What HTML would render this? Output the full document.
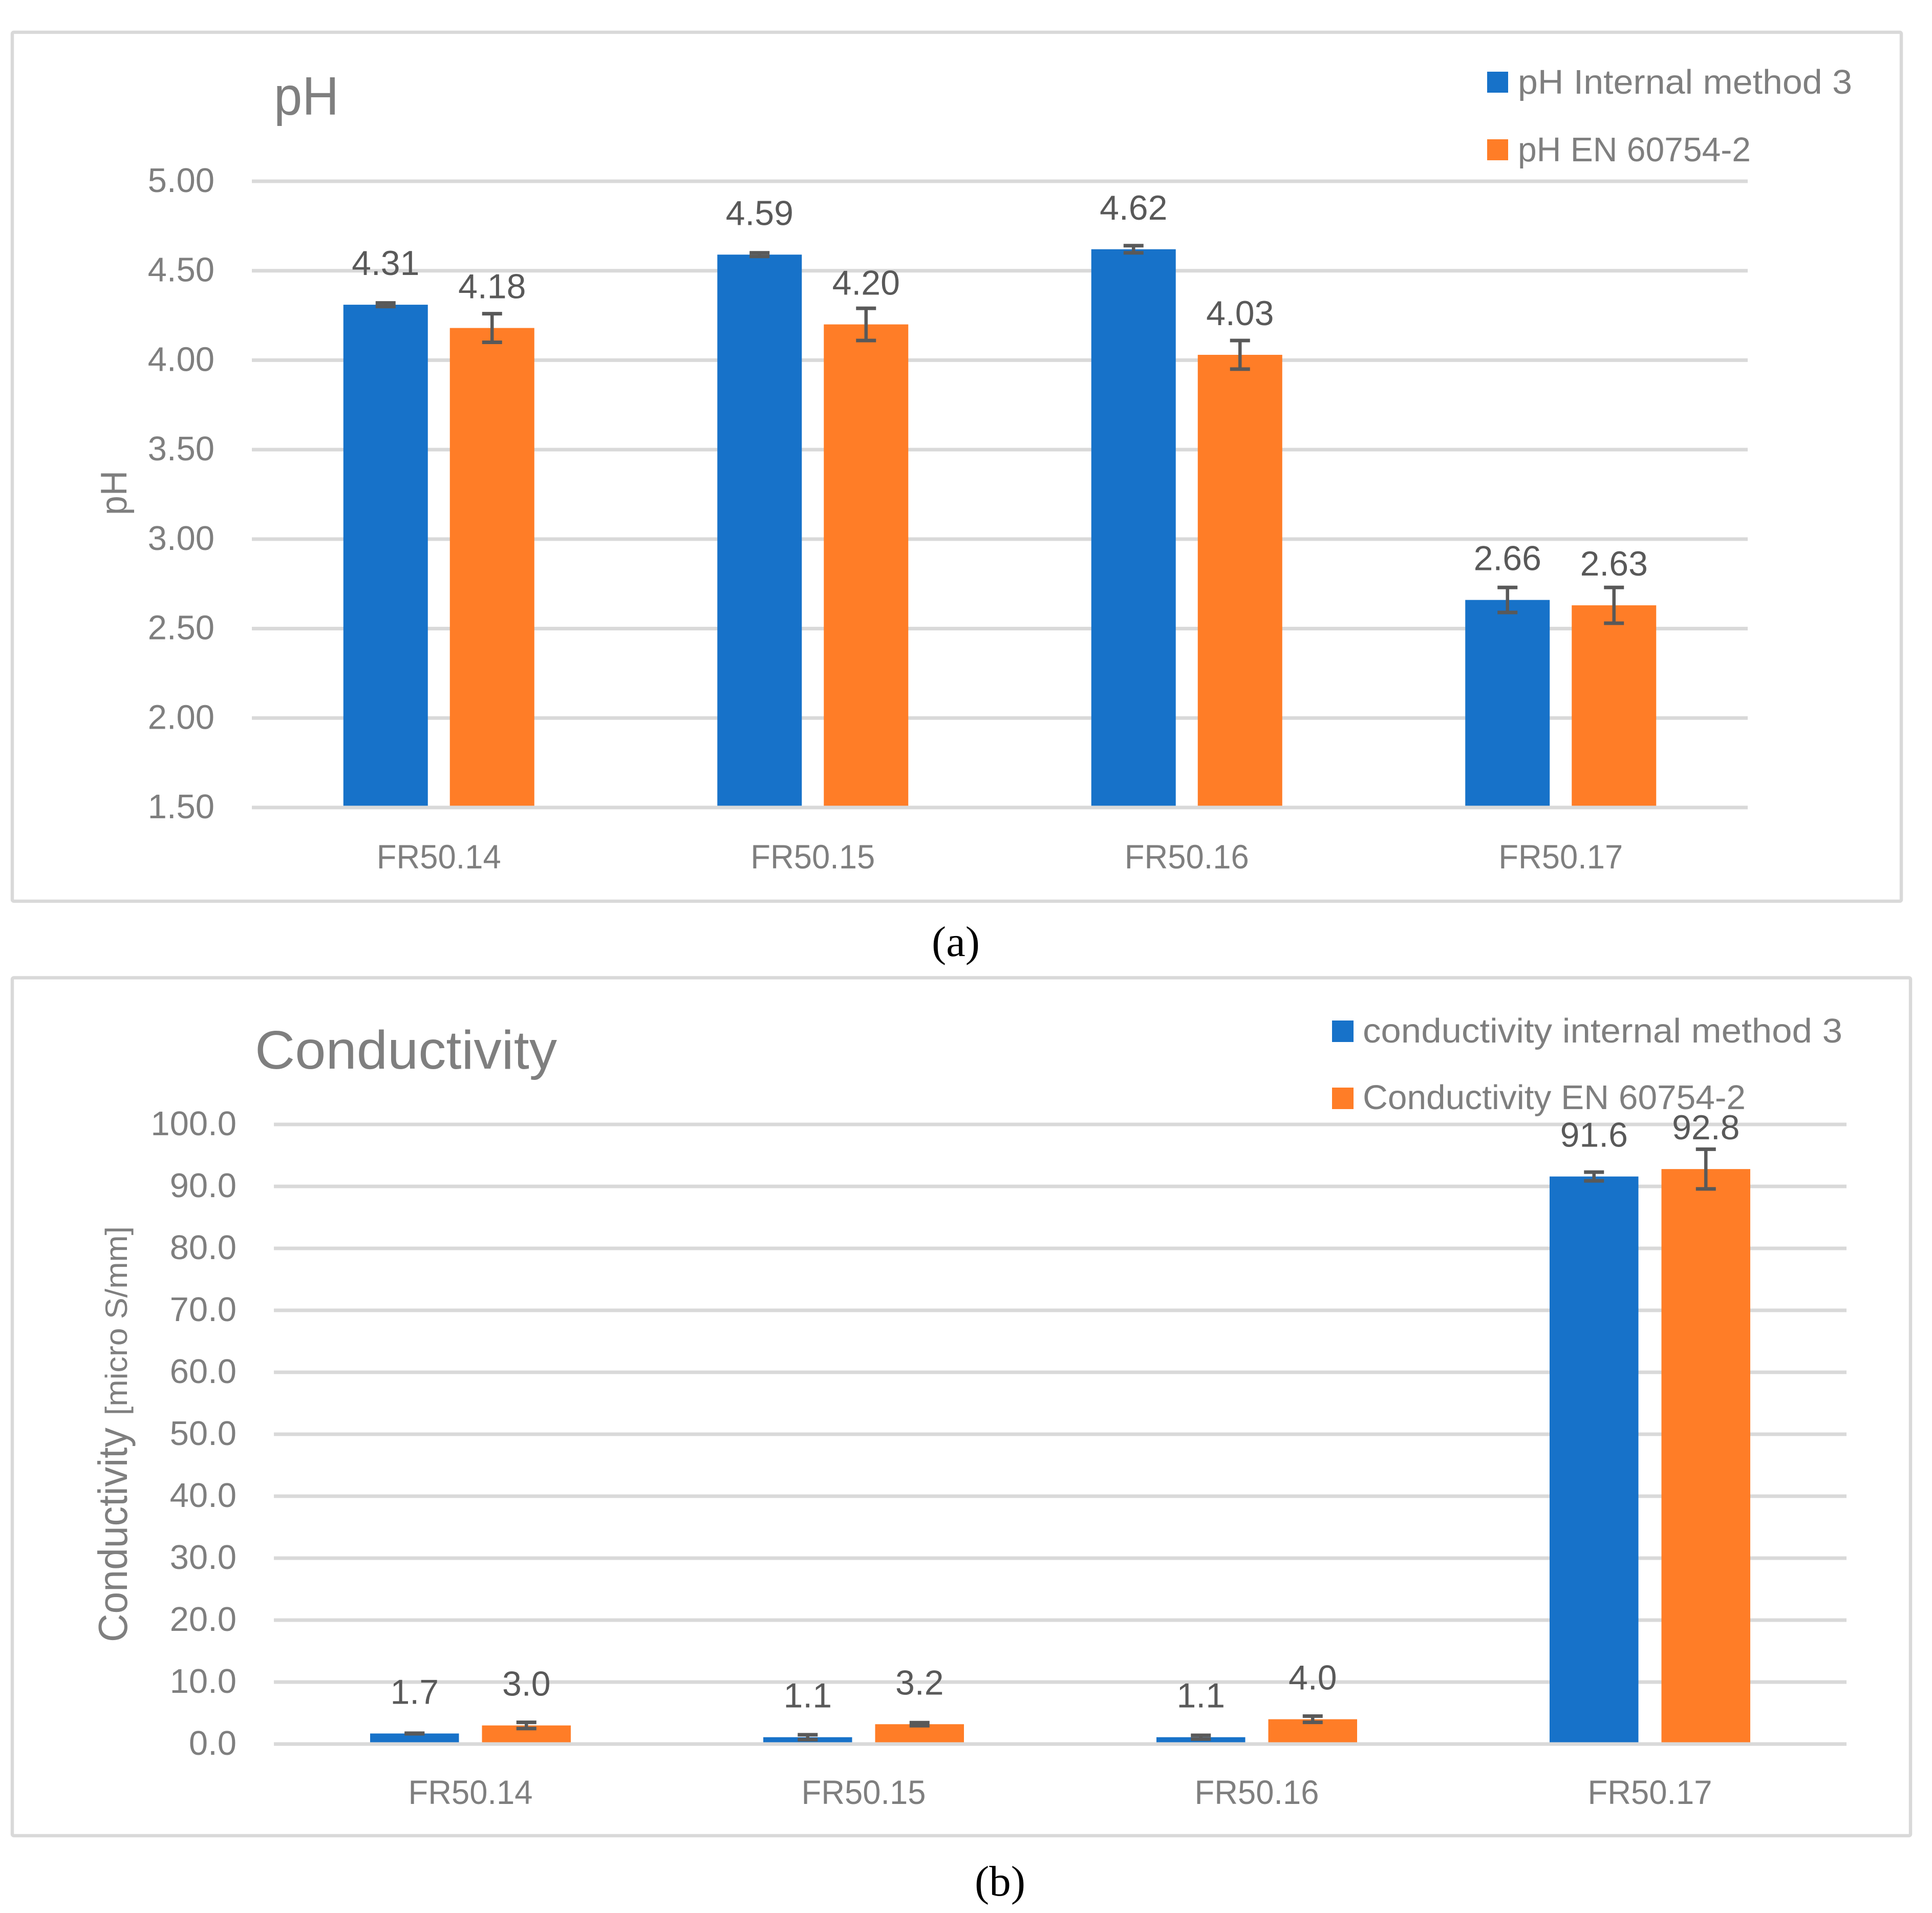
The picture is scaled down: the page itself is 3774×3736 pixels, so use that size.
<!DOCTYPE html>
<html lang="en">
<head>
<meta charset="utf-8">
<title>pH and Conductivity charts</title>
<style>
html,body{margin:0;padding:0;background:#fff;}
svg{display:block;}
text{font-family:"Liberation Sans",sans-serif;}
.tick{fill:#7f7f7f;font-size:67px;}
.cat{fill:#7f7f7f;font-size:66px;}
.val{fill:#595959;font-size:68px;}
.leg{fill:#7f7f7f;font-size:67px;}
.ttl{fill:#7f7f7f;font-size:106px;}
.axt{fill:#7f7f7f;}
.cap{fill:#000;font-family:"Liberation Serif",serif;font-size:84px;}
</style>
</head>
<body>
<svg id="figure" xmlns="http://www.w3.org/2000/svg" width="3774" height="3736" viewBox="0 0 3774 3736">
  <rect x="0" y="0" width="3774" height="3736" fill="#fff"/>

  <g>
    <rect x="24" y="63" width="3690" height="1697" rx="3" fill="#fff" stroke="#d9d9d9" stroke-width="6.5"/>
    <text class="ttl" x="535" y="224" textLength="127" lengthAdjust="spacingAndGlyphs">pH</text>
    <rect x="2905" y="140" width="41" height="41" fill="#1772c9"/>
    <text class="leg" x="2965" y="183" textLength="653" lengthAdjust="spacingAndGlyphs">pH Internal method 3</text>
    <rect x="2905" y="272" width="41" height="41" fill="#ff7d27"/>
    <text class="leg" x="2965" y="315" textLength="455" lengthAdjust="spacingAndGlyphs">pH EN 60754-2</text>
    <text class="axt" font-size="72" transform="translate(247 1006) rotate(-90)" textLength="87" lengthAdjust="spacingAndGlyphs">pH</text>
    <g id="ph-plot"></g>
  </g>
  <text class="cap" x="1820" y="1867" textLength="94" lengthAdjust="spacingAndGlyphs">(a)</text>

  <g>
    <rect x="24" y="1909.5" width="3708" height="1675.5" rx="3" fill="#fff" stroke="#d9d9d9" stroke-width="6.5"/>
    <text class="ttl" x="498" y="2087" textLength="590" lengthAdjust="spacingAndGlyphs">Conductivity</text>
    <rect x="2602" y="1993" width="42" height="42" fill="#1772c9"/>
    <text class="leg" x="2662" y="2036" textLength="937" lengthAdjust="spacingAndGlyphs">conductivity internal method 3</text>
    <rect x="2602" y="2124" width="42" height="42" fill="#ff7d27"/>
    <text class="leg" x="2662" y="2166" textLength="748" lengthAdjust="spacingAndGlyphs">Conductivity EN 60754-2</text>
    <text class="axt" font-size="80" transform="translate(248 3207) rotate(-90)" textLength="419" lengthAdjust="spacingAndGlyphs">Conductivity</text>
    <text class="axt" font-size="60" transform="translate(248 2764) rotate(-90)" textLength="369" lengthAdjust="spacingAndGlyphs">[micro S/mm]</text>
    <g id="conductivity-plot"></g>
  </g>
  <text class="cap" x="1904" y="3702" textLength="99" lengthAdjust="spacingAndGlyphs">(b)</text>
</svg>

<script>
// Chart data
const categories = ["FR50.14", "FR50.15", "FR50.16", "FR50.17"];

const phTicks = [1.5, 2.0, 2.5, 3.0, 3.5, 4.0, 4.5, 5.0];
const phInternal = [4.31, 4.59, 4.62, 2.66];
const phEn = [4.18, 4.20, 4.03, 2.63];
const phInternalError = [0.01, 0.01, 0.02, 0.07];
const phEnError = [0.08, 0.09, 0.08, 0.10];

const conductivityTicks = [0, 10, 20, 30, 40, 50, 60, 70, 80, 90, 100];
const conductivityInternal = [1.7, 1.1, 1.1, 91.6];
const conductivityEn = [3.0, 3.2, 4.0, 92.8];
const conductivityInternalError = [0.05, 0.4, 0.3, 0.7];
const conductivityEnError = [0.5, 0.25, 0.5, 3.2];

const SVG_NS = "http://www.w3.org/2000/svg";
const BLUE = "#1772c9";
const ORANGE = "#ff7d27";
const GRID = "#d9d9d9";
const WHISKER = "#595959";

function make(parent, tag, attrs, content) {
  const node = document.createElementNS(SVG_NS, tag);
  for (const key in attrs) node.setAttribute(key, attrs[key]);
  if (content !== undefined) node.textContent = content;
  parent.appendChild(node);
  return node;
}

function drawChart(opts) {
  const root = document.getElementById(opts.target);
  const minV = opts.ticks[0];
  const maxV = opts.ticks[opts.ticks.length - 1];
  const yScale = function (v) {
    return opts.yBottom - (v - minV) / (maxV - minV) * (opts.yBottom - opts.yTop);
  };
  const groupWidth = (opts.xRight - opts.xLeft) / categories.length;
  const groupCenter = function (i) {
    return opts.xLeft + groupWidth * (i + 0.5);
  };

  // gridlines and tick labels
  opts.ticks.forEach(function (t) {
    const y = yScale(t);
    if (t !== minV) {
      const line = make(root, "line", { x1: opts.xLeft, x2: opts.xRight, y1: y, y2: y, stroke: GRID, "stroke-width": 7 });
      
      
    }
    const label = make(root, "text", { class: "tick", x: opts.tickRight, y: y + 21, "text-anchor": "end" }, t.toFixed(opts.tickDecimals));
    
    
  });

  // bars, whiskers and value labels
  opts.series.forEach(function (s, sIdx) {
    s.values.forEach(function (v, i) {
      const offset = sIdx === 0 ? -(opts.barGap + opts.barWidth) / 2 : (opts.barGap + opts.barWidth) / 2;
      const cx = groupCenter(i) + offset;
      const top = yScale(v);

      const bar = make(root, "rect", { x: cx - opts.barWidth / 2, y: top, width: opts.barWidth, height: yScale(minV) - top, fill: s.color });
      
      

      const hi = yScale(v + s.errors[i]);
      const lo = yScale(v - s.errors[i]);
      const stem = make(root, "line", { x1: cx, x2: cx, y1: hi, y2: lo, stroke: WHISKER, "stroke-width": 6.5 });
      
      
      [hi, lo].forEach(function (capY) {
        const cap = make(root, "line", { x1: cx - 19.5, x2: cx + 19.5, y1: capY, y2: capY, stroke: WHISKER, "stroke-width": 7 });
        
        
      });

      const text = make(root, "text", { class: "val", x: cx, y: top - opts.labelLift, "text-anchor": "middle" }, v.toFixed(opts.valueDecimals));
      
      
    });
  });

  // baseline drawn above the bars
  const axis = make(root, "line", { x1: opts.xLeft, x2: opts.xRight, y1: yScale(minV), y2: yScale(minV), stroke: GRID, "stroke-width": 7 });
  
  

  // category labels
  categories.forEach(function (c, i) {
    const label = make(root, "text", { class: "cat", x: groupCenter(i), y: opts.catY, "text-anchor": "middle", textLength: 243, lengthAdjust: "spacingAndGlyphs" }, c);
    
    
  });
}

drawChart({
  target: "ph-plot",
  ticks: phTicks,
  series: [
    { values: phInternal, errors: phInternalError, color: BLUE },
    { values: phEn, errors: phEnError, color: ORANGE }
  ],
  xLeft: 492, xRight: 3414, yBottom: 1577, yTop: 354,
  barWidth: 165, barGap: 43,
  tickRight: 419, tickDecimals: 2, valueDecimals: 2,
  labelLift: 58, catY: 1696
});

drawChart({
  target: "conductivity-plot",
  ticks: conductivityTicks,
  series: [
    { values: conductivityInternal, errors: conductivityInternalError, color: BLUE },
    { values: conductivityEn, errors: conductivityEnError, color: ORANGE }
  ],
  xLeft: 535, xRight: 3607, yBottom: 3406, yTop: 2196,
  barWidth: 173.5, barGap: 45,
  tickRight: 462, tickDecimals: 1, valueDecimals: 1,
  labelLift: 58, catY: 3523
});
</script>
</body>
</html>
